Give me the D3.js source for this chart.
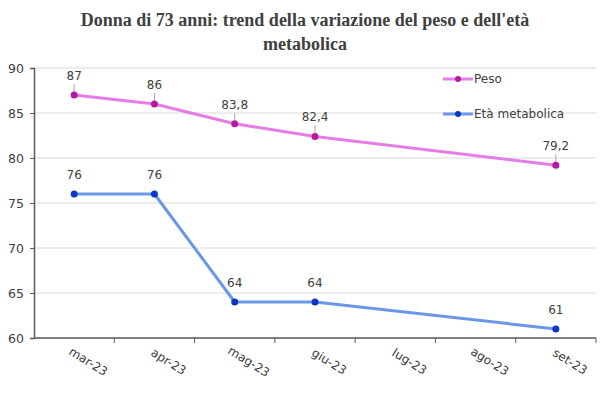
<!DOCTYPE html>
<html>
<head>
<meta charset="utf-8">
<script src="https://cdn.jsdelivr.net/npm/d3@7"></script>
<style>
  body { margin: 0; background: #fff; }
  svg { display: block; }
  text { fill: #404040; }
</style>
</head>
<body>
<svg width="612" height="393"></svg>
<script>
// Data
const mesi = ["mar-23", "apr-23", "mag-23", "giu-23", "lug-23", "ago-23", "set-23"];
const peso = [87, 86, 83.8, 82.4, null, null, 79.2];
const etaMetabolica = [76, 76, 64, 64, null, null, 61];
const yTicks = [60, 65, 70, 75, 80, 85, 90];
const titleLines = ["Donna di 73 anni: trend della variazione del peso e dell'età", "metabolica"];

const width = 612, height = 393;
const margin = { top: 68, right: 16, bottom: 55, left: 34 };
const labelFont = "'DejaVu Sans', sans-serif";

const svg = d3.select("svg");

// Scales
const x = d3.scaleBand()
  .domain(mesi)
  .range([margin.left, width - margin.right]);

const y = d3.scaleLinear()
  .domain([60, 90])
  .range([height - margin.bottom, margin.top]);

// Gridlines
svg.append("g")
  .selectAll("line")
  .data(yTicks.filter(d => d > 60))
  .join("line")
  .attr("x1", margin.left)
  .attr("x2", width - margin.right)
  .attr("y1", d => y(d))
  .attr("y2", d => y(d))
  .attr("stroke", "#d9d9d9")
  .attr("stroke-width", 1);

// Y axis
const yAxis = svg.append("g")
  .attr("transform", `translate(${margin.left},0)`)
  .call(d3.axisLeft(y).tickValues(yTicks).tickSize(4).tickPadding(6));
yAxis.select(".domain").attr("stroke", "#595959").attr("stroke-width", 1.5);
yAxis.selectAll(".tick line").attr("stroke", "#595959");
yAxis.selectAll("text")
  .style("font-family", labelFont)
  .style("font-size", "12.5px")
  .attr("fill", "#404040");

// X axis: ticks on category boundaries
const xAxis = svg.append("g")
  .attr("transform", `translate(0,${height - margin.bottom})`);
xAxis.append("line")
  .attr("x1", margin.left).attr("x2", width - margin.right)
  .attr("stroke", "#595959").attr("stroke-width", 1.5);
const bounds = mesi.map(m => x(m)).concat([x(mesi[mesi.length - 1]) + x.bandwidth()]);
xAxis.selectAll(".tk")
  .data(bounds.slice(1))
  .join("line")
  .attr("class", "tk")
  .attr("x1", d => d).attr("x2", d => d)
  .attr("y1", 0).attr("y2", 5)
  .attr("stroke", "#595959");
xAxis.selectAll(".lbl")
  .data(mesi)
  .join("text")
  .attr("class", "lbl")
  .attr("transform", d => `translate(${x(d) + x.bandwidth() / 2 + 12},${27}) rotate(32)`)
  .attr("text-anchor", "middle")
  .style("font-family", labelFont)
  .style("font-size", "12px")
  .text(d => d);

// Lines
const cx = i => x(mesi[i]) + x.bandwidth() / 2;
const line = d3.line()
  .x(d => cx(d.i))
  .y(d => y(d.v));

const series = [
  { name: "Peso", values: peso, line: "#e47ee6", dot: "#b5199f", leader: true },
  { name: "Età metabolica", values: etaMetabolica, line: "#6b97e8", dot: "#0a37c8", leader: false }
];

series.forEach(s => {
  const pts = s.values.map((v, i) => ({ v, i })).filter(d => d.v != null);
  svg.append("path")
    .datum(pts)
    .attr("d", line)
    .attr("fill", "none")
    .attr("stroke", s.line)
    .attr("stroke-width", 3)
    .attr("stroke-linejoin", "round");

  if (s.leader) {
    svg.append("g").selectAll("line")
      .data(pts)
      .join("line")
      .attr("x1", d => cx(d.i)).attr("x2", d => cx(d.i))
      .attr("y1", d => y(d.v) - 11).attr("y2", d => y(d.v) - 3)
      .attr("stroke", "#a6a6a6").attr("stroke-width", 1);
  }

  svg.append("g").selectAll("circle")
    .data(pts)
    .join("circle")
    .attr("cx", d => cx(d.i))
    .attr("cy", d => y(d.v))
    .attr("r", 3.5)
    .attr("fill", s.dot);

  svg.append("g").selectAll("text")
    .data(pts)
    .join("text")
    .attr("x", d => cx(d.i))
    .attr("y", d => y(d.v) - 15)
    .attr("text-anchor", "middle")
    .style("font-family", labelFont)
    .style("font-size", "12px")
    .text(d => String(d.v).replace(".", ","));
});

// Legend
const legend = svg.append("g");
series.forEach((s, k) => {
  const ly = 79 + k * 35;
  legend.append("line")
    .attr("x1", 443).attr("x2", 473)
    .attr("y1", ly).attr("y2", ly)
    .attr("stroke", s.line).attr("stroke-width", 3);
  legend.append("circle")
    .attr("cx", 458).attr("cy", ly).attr("r", 3)
    .attr("fill", s.dot);
  legend.append("text")
    .attr("x", 474).attr("y", ly + 4)
    .style("font-family", labelFont)
    .style("font-size", "12px")
    .text(s.name);
});

// Title
svg.append("g").selectAll("text")
  .data(titleLines)
  .join("text")
  .attr("x", 305)
  .attr("y", (d, i) => 26 + i * 24)
  .attr("text-anchor", "middle")
  .style("font-family", "'Liberation Serif', serif")
  .style("font-weight", "bold")
  .style("font-size", "18px")
  .text(d => d);
</script>
</body>
</html>
